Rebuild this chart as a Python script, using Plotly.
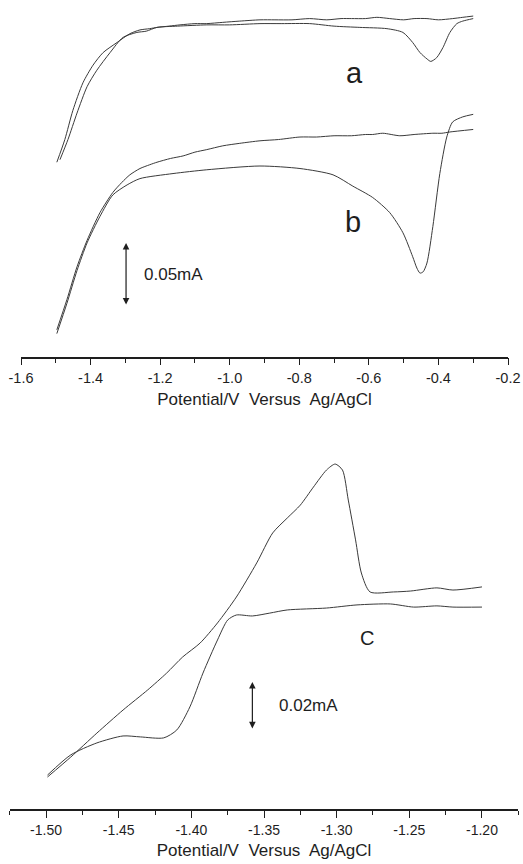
import plotly.graph_objects as go

# ---------------- Data (potential V vs Ag/AgCl, current mA, arbitrary offset) ----------
# Panel 1, curve a (two sweeps)
a1_v = [-1.497, -1.474, -1.451, -1.422, -1.393, -1.364, -1.324, -1.287, -1.258, -1.230, -1.209,
        -1.175, -1.143, -1.100, -1.066, -1.020, -0.971, -0.913, -0.870, -0.821, -0.770, -0.721,
        -0.680, -0.650, -0.610, -0.577, -0.540, -0.500, -0.470, -0.433, -0.400, -0.359, -0.330, -0.300]
a1_i = [0.153, 0.171, 0.194, 0.216, 0.230, 0.240, 0.248, 0.255, 0.258, 0.259, 0.260,
        0.261, 0.262, 0.263, 0.263, 0.264, 0.265, 0.266, 0.266, 0.266, 0.267, 0.266,
        0.267, 0.267, 0.267, 0.268, 0.267, 0.266, 0.267, 0.267, 0.266, 0.267, 0.268, 0.269]

a2_v = [-1.488, -1.465, -1.439, -1.410, -1.382, -1.344, -1.307, -1.267, -1.240, -1.209, -1.150,
        -1.066, -1.000, -0.913, -0.850, -0.770, -0.700, -0.626, -0.548, -0.502, -0.474, -0.453,
        -0.433, -0.422, -0.405, -0.387, -0.367, -0.347, -0.330, -0.300]
a2_i = [0.155, 0.171, 0.192, 0.213, 0.226, 0.240, 0.252, 0.256, 0.257, 0.260, 0.261,
        0.262, 0.262, 0.263, 0.263, 0.263, 0.261, 0.260, 0.259, 0.256, 0.248, 0.240,
        0.235, 0.233, 0.236, 0.244, 0.256, 0.263, 0.265, 0.267]

# Panel 1, curve b (two sweeps)
b1_v = [-1.497, -1.468, -1.439, -1.410, -1.373, -1.336, -1.310, -1.287, -1.258, -1.230, -1.209,
        -1.170, -1.134, -1.100, -1.066, -1.020, -0.971, -0.913, -0.860, -0.798, -0.750, -0.700,
        -0.650, -0.610, -0.589, -0.560, -0.511, -0.470, -0.416, -0.390, -0.367, -0.300]
b1_i = [0.020, 0.044, 0.070, 0.091, 0.113, 0.129, 0.137, 0.143, 0.148, 0.151, 0.153,
        0.156, 0.158, 0.161, 0.163, 0.166, 0.168, 0.170, 0.171, 0.173, 0.173, 0.174,
        0.174, 0.175, 0.175, 0.176, 0.174, 0.175, 0.176, 0.176, 0.177, 0.179]

b2_v = [-1.497, -1.468, -1.439, -1.410, -1.373, -1.336, -1.295, -1.258, -1.163, -1.066,
        -0.913, -0.798, -0.703, -0.646, -0.589, -0.540, -0.502, -0.474, -0.462, -0.453,
        -0.444, -0.433, -0.416, -0.396, -0.376, -0.359, -0.330, -0.300]
b2_i = [0.017, 0.041, 0.067, 0.089, 0.110, 0.127, 0.135, 0.140, 0.144, 0.147,
        0.150, 0.148, 0.143, 0.134, 0.125, 0.113, 0.097, 0.078, 0.069, 0.065,
        0.066, 0.073, 0.102, 0.144, 0.173, 0.185, 0.189, 0.191]

# Panel 2, curve C (two sweeps)
c1_v = [-1.499, -1.483, -1.465, -1.447, -1.430, -1.417, -1.406, -1.394, -1.382, -1.369,
        -1.355, -1.344, -1.334, -1.325, -1.316, -1.307, -1.301, -1.296, -1.292, -1.287,
        -1.283, -1.277, -1.261, -1.249, -1.231, -1.220, -1.200]
c1_i = [0.0125, 0.0208, 0.0308, 0.0404, 0.0488, 0.0558, 0.0625, 0.0683, 0.0767, 0.0875,
        0.1017, 0.1142, 0.1204, 0.1258, 0.1333, 0.1404, 0.1429, 0.1404, 0.1279, 0.1113,
        0.0975, 0.0896, 0.0896, 0.0900, 0.0913, 0.0904, 0.0917]

c2_v = [-1.499, -1.483, -1.465, -1.447, -1.435, -1.419, -1.410, -1.401, -1.392, -1.382,
        -1.375, -1.369, -1.358, -1.346, -1.334, -1.307, -1.286, -1.263, -1.247, -1.231,
        -1.220, -1.200]
c2_i = [0.0133, 0.0217, 0.0267, 0.0296, 0.0292, 0.0288, 0.0321, 0.0417, 0.0558, 0.0696,
        0.0779, 0.0800, 0.0796, 0.0808, 0.0821, 0.0829, 0.0842, 0.0846, 0.0833, 0.0838,
        0.0833, 0.0833]

# Scale bars (mA)
bar1 = dict(v=-1.298, lo=0.0389, size=0.05, label="0.05mA", lv=-1.252, li=0.0635)
bar2 = dict(v=-1.358, lo=0.0321, size=0.02, label="0.02mA", lv=-1.341, li=0.0425)

# Curve labels
labels1 = [("a", -0.640, 0.224), ("b", -0.646, 0.1056)]
labels2 = [("C", -1.279, 0.0704)]

top_ticks = [-1.6, -1.4, -1.2, -1.0, -0.8, -0.6, -0.4, -0.2]
bot_ticks = [-1.50, -1.45, -1.40, -1.35, -1.30, -1.25, -1.20]
xtitle = "Potential/V\u00a0 Versus\u00a0 Ag/AgCl"

# ---------------- Figure ----------------
FONT = "Liberation Sans, Arial, Helvetica, sans-serif"
LC = "#3a3a3a"
INK = "#1e1e1e"

fig = go.Figure()
for xs, ys in [(a1_v, a1_i), (a2_v, a2_i), (b1_v, b1_i), (b2_v, b2_i)]:
    fig.add_trace(go.Scatter(x=xs, y=ys, mode="lines", xaxis="x", yaxis="y",
                             line=dict(color=LC, width=1, shape="spline", smoothing=0.7),
                             showlegend=False, hoverinfo="skip"))
for xs, ys in [(c1_v, c1_i), (c2_v, c2_i)]:
    fig.add_trace(go.Scatter(x=xs, y=ys, mode="lines", xaxis="x2", yaxis="y2",
                             line=dict(color=LC, width=1, shape="spline", smoothing=0.7),
                             showlegend=False, hoverinfo="skip"))

W, H = 523, 864
TOP_AX, BOT_AX = 356.5, 809.0
axis_common = dict(showline=True, linecolor=INK, linewidth=1.5, ticks="outside",
                   ticklen=7, tickwidth=1.2, tickcolor=INK, showgrid=False, zeroline=False,
                   automargin=False,
                   title_font=dict(family=FONT, size=17, color=INK), fixedrange=True)

fig.update_layout(
    width=W, height=H, margin=dict(l=0, r=0, t=0, b=0, pad=0, autoexpand=False),
    paper_bgcolor="white", plot_bgcolor="white",
    font=dict(family=FONT, color=INK),
    xaxis=dict(domain=[21 / W, 508 / W], anchor="y", range=[-1.6, -0.2],
               tickvals=top_ticks, ticktext=[f"{t:.1f}" for t in top_ticks],
               tickfont=dict(family=FONT, size=14.5, color=INK),
               minor=dict(ticks="outside", ticklen=4.5, tickwidth=1.2, tickcolor=INK,
                          tick0=-1.6, dtick=0.1),
               title=dict(text=xtitle, standoff=8), **axis_common),
    yaxis=dict(domain=[1 - TOP_AX / H, 1], anchor="x",
               range=[-(TOP_AX - 355) / 1260, 355 / 1260], visible=False,
               fixedrange=True),
    xaxis2=dict(domain=[9.7 / W, 518.3 / W], anchor="y2", range=[-1.525, -1.175],
                tickvals=bot_ticks, ticktext=[f"{t:.2f}" for t in bot_ticks],
                tickfont=dict(family=FONT, size=14, color=INK),
                minor=dict(ticks="outside", ticklen=4.5, tickwidth=1.2, tickcolor=INK,
                           tick0=-1.525, dtick=0.025),
                title=dict(text=xtitle, standoff=8), **axis_common),
    yaxis2=dict(domain=[1 - BOT_AX / H, 1 - 420 / H], anchor="x2",
                range=[-(BOT_AX - 807) / 2400, 387 / 2400],
                visible=False, fixedrange=True),
)

for bar, xr, yr in [(bar1, "x", "y"), (bar2, "x2", "y2")]:
    fig.add_annotation(x=bar["v"], y=bar["lo"] + bar["size"], ax=bar["v"], ay=bar["lo"],
                       xref=xr, yref=yr, axref=xr, ayref=yr, text="", showarrow=True,
                       arrowhead=2, arrowside="end+start", arrowsize=1.1, arrowwidth=1.2,
                       arrowcolor=INK, standoff=0, startstandoff=0)
    fig.add_annotation(x=bar["lv"], y=bar["li"], xref=xr, yref=yr, text=bar["label"],
                       showarrow=False, xanchor="left", yanchor="middle",
                       font=dict(family=FONT, size=17, color=INK))

for txt, v, i in labels1:
    fig.add_annotation(x=v, y=i, xref="x", yref="y", text=txt, showarrow=False,
                       xanchor="center", yanchor="middle",
                       font=dict(family=FONT, size=29, color=INK))
for txt, v, i in labels2:
    fig.add_annotation(x=v, y=i, xref="x2", yref="y2", text=txt, showarrow=False,
                       xanchor="center", yanchor="middle",
                       font=dict(family=FONT, size=20, color=INK))

fig.write_html("out.html")
